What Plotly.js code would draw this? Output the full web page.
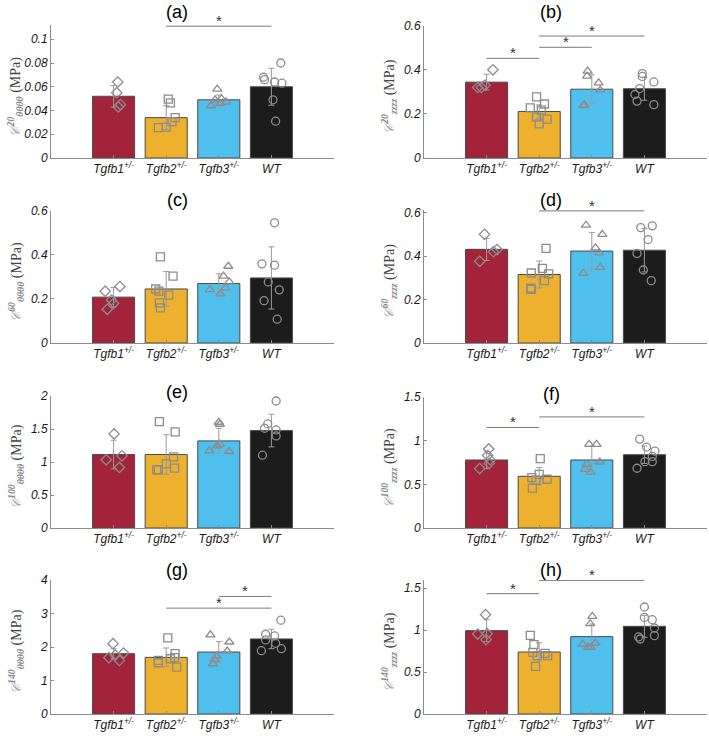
<!DOCTYPE html>
<html><head><meta charset="utf-8">
<script src="https://cdn.plot.ly/plotly-3.0.1.min.js"></script>
<style>body{margin:0;background:#fff}#chart{width:709px;height:736px}</style>
</head><body><div id="chart"></div>
<script>
// ---------- data ----------
const categories = ['Tgfb1<sup>+/-</sup>','Tgfb2<sup>+/-</sup>','Tgfb3<sup>+/-</sup>','WT'];
const panelLabels = ['(a)','(b)','(c)','(d)','(e)','(f)','(g)','(h)'];
const strainSup = ['20','20','60','60','100','100','140','140'];
const compSub = ['θθθθ','zzzz','θθθθ','zzzz','θθθθ','zzzz','θθθθ','zzzz'];

// (a)
const meanA = [0.052,0.034,0.049,0.060];
const sdA = [0.009,0.010,0.004,0.0155];
const ptsA = [[0.064,0.055,0.045,0.043],[0.0496,0.0465,0.034,0.0307,0.026,0.0256],[0.058,0.050,0.049,0.047,0.046,0.044],[0.080,0.068,0.066,0.064,0.063,0.049,0.031]];
const jitA = [[0.08,0.06,0.13,0.09],[0.04,0.08,0.17,0.11,0.0,-0.15],[-0.03,0.05,-0.07,0.14,0.03,-0.15],[0.18,-0.15,-0.13,0.06,0.2,0.03,0.08]];
const sigA = [[2,4,0.111]];
// (b)
const meanB = [0.344,0.211,0.312,0.314];
const sdB = [0.036,0.03,0.065,0.052];
const ptsB = [[0.40,0.33,0.32,0.32],[0.277,0.245,0.227,0.217,0.185,0.176,0.155],[0.394,0.371,0.341,0.308,0.241,0.238],[0.383,0.37,0.345,0.315,0.288,0.258,0.242]];
const jitB = [[0.12,-0.03,-0.1,-0.17],[-0.05,0.10,-0.17,0.04,-0.05,0.15,0.0],[-0.08,-0.09,0.13,0.16,-0.14,-0.16],[-0.04,-0.04,0.18,-0.09,-0.18,-0.14,0.18]];
const sigB = [[1,2,0.452],[2,3,0.502],[2,4,0.553]];
// (c)
const meanC = [0.208,0.245,0.270,0.295];
const sdC = [0.044,0.079,0.044,0.141];
const ptsC = [[0.256,0.235,0.195,0.18,0.153],[0.391,0.303,0.245,0.235,0.217,0.182,0.159],[0.348,0.303,0.277,0.242,0.25,0.223],[0.545,0.359,0.353,0.277,0.241,0.192,0.108]];
const jitC = [[0.12,-0.16,-0.04,0.0,-0.12],[-0.11,0.13,-0.2,-0.14,0.05,-0.13,-0.11],[0.18,0.09,0.20,-0.17,0.13,0.03],[0.06,-0.18,0.06,-0.06,0.15,-0.14,0.11]];
const sigC = [];
// (d)
const meanD = [0.431,0.315,0.423,0.427];
const sdD = [0.051,0.062,0.085,0.10];
const ptsD = [[0.50,0.43,0.42,0.376],[0.435,0.343,0.322,0.318,0.287,0.252,0.247],[0.542,0.50,0.438,0.415,0.348,0.321],[0.531,0.539,0.476,0.412,0.336,0.287]];
const jitD = [[-0.04,0.2,0.13,-0.13],[0.13,0.06,-0.15,0.18,0.10,-0.16,-0.15],[-0.11,0.2,0.07,0.14,0.16,-0.16],[-0.07,0.15,0.07,-0.14,-0.02,0.13]];
const sigD = [[2,4,0.608]];
// (e)
const meanE = [1.113,1.113,1.32,1.476];
const sdE = [0.217,0.30,0.19,0.247];
const ptsE = [[1.426,1.093,1.033,0.917],[1.612,1.456,1.078,0.972,0.907,0.882,0.882],[1.602,1.572,1.27,1.244,1.169,1.159],[1.924,1.577,1.511,1.486,1.395,1.103]];
const jitE = [[0.01,0.16,-0.14,0.11],[-0.13,0.17,0.14,0.0,0.16,-0.18,-0.15],[0.0,0.02,0.02,-0.03,-0.18,0.2],[0.09,-0.07,-0.13,0.09,0.09,-0.17]];
const sigE = [];
// (f)
const meanF = [0.779,0.592,0.779,0.839];
const sdF = [0.10,0.10,0.16,0.10];
const ptsF = [[0.905,0.83,0.78,0.74,0.68],[0.794,0.615,0.577,0.558,0.547,0.456],[0.957,0.957,0.756,0.729,0.672,0.638],[1.018,0.927,0.881,0.82,0.76,0.76,0.684]];
const jitF = [[0.04,0.02,0.07,0.05,-0.13],[0.02,0.0,-0.14,0.15,-0.06,-0.13],[-0.05,0.09,0.15,-0.1,-0.13,-0.02],[-0.09,0.04,0.2,0.15,0.01,0.15,-0.14]];
const sigF = [[1,2,1.151],[2,4,1.272]];
// (g)
const meanG = [1.80,1.69,1.85,2.24];
const sdG = [0.15,0.28,0.31,0.29];
const ptsG = [[2.10,1.82,1.76,1.68,1.60],[2.27,1.80,1.68,1.65,1.60,1.53,1.40],[2.36,2.15,1.88,1.73,1.63,1.50],[2.80,2.38,2.33,2.21,2.11,1.95,1.89]];
const jitG = [[-0.01,0.19,0.03,-0.09,0.11],[0.03,0.17,0.16,0.08,-0.15,-0.15,0.2],[-0.16,0.2,0.16,-0.04,-0.08,-0.11],[0.18,-0.11,0.06,-0.11,0.08,0.19,-0.19]];
const sigG = [[3,4,3.51],[2,4,3.16]];
// (h)
const meanH = [0.992,0.738,0.921,1.044];
const sdH = [0.13,0.11,0.15,0.13];
const ptsH = [[1.183,0.956,0.952,0.885],[0.937,0.825,0.734,0.722,0.694,0.694,0.567],[1.163,1.075,0.845,0.833,0.794,0.794],[1.274,1.15,1.123,1.024,0.933,0.917,0.893]];
const jitH = [[-0.02,0.01,-0.17,-0.01],[-0.17,-0.10,-0.12,0.11,0.16,-0.04,-0.07],[0.01,-0.03,0.07,-0.17,-0.07,-0.02],[0.0,0.0,0.15,0.19,0.19,-0.11,-0.08]];
const sigH = [[1,2,1.433],[2,4,1.591]];

const yMax = [0.112,0.6,0.6,0.612,2,1.5,4,1.6];
const yDtick = [0.02,0.2,0.2,0.2,0.5,0.5,1,0.5];

// ---------- styling / layout ----------
const W = 709, H = 736;
const barColors = ['#A2233A','#EDB12E','#4FBFEE','#1C1C1C'];
const symbols = ['diamond-open','square-open','triangle-up-open','circle-open'];
const grey = '#8c8c8c';
const colPx = [[51,334],[424,707]];
const rowPx = [[25,158],[25.7,158],[210.7,343],[210,343],[396,528],[397,528],[580,714],[579.6,714]];
const titlePos = [[177,12],[551,12],[177,200],[551,200],[177,392],[551,394],[177,570],[551,570]];

const panels = [
  [meanA,sdA,ptsA,jitA,sigA],[meanB,sdB,ptsB,jitB,sigB],
  [meanC,sdC,ptsC,jitC,sigC],[meanD,sdD,ptsD,jitD,sigD],
  [meanE,sdE,ptsE,jitE,sigE],[meanF,sdF,ptsF,jitF,sigF],
  [meanG,sdG,ptsG,jitG,sigG],[meanH,sdH,ptsH,jitH,sigH]
];

const traces = [];
const layout = {
  width: W, height: H, margin: {l:0,r:0,t:0,b:0},
  paper_bgcolor: '#fff', plot_bgcolor: 'rgba(0,0,0,0)',
  showlegend: false, shapes: [], annotations: []
};
const xs = [1,2,3,4];

panels.forEach((p, i) => {
  const [means, sds, pts, jit, sigs] = p;
  const n = i + 1;
  const xa = n === 1 ? 'x' : 'x' + n;
  const ya = n === 1 ? 'y' : 'y' + n;
  const col = colPx[i % 2];
  const row = rowPx[i];
  layout['xaxis' + (n === 1 ? '' : n)] = {
    domain: [col[0] / W, col[1] / W], anchor: ya, range: [-0.19, 5.19],
    tickvals: xs, ticktext: categories, showline: true, linecolor: grey, linewidth: 1,
    ticks: 'inside', ticklen: 3, tickcolor: grey, showgrid: false, zeroline: false,
    fixedrange: true,
    tickfont: {family: 'Liberation Sans, Arial', size: 12, color: '#1a1a1a', style: 'italic'}
  };
  layout['yaxis' + (n === 1 ? '' : n)] = {
    domain: [1 - row[1] / H, 1 - row[0] / H], anchor: xa, range: [0, yMax[i]],
    dtick: yDtick[i], tick0: 0, showline: true, linecolor: grey, linewidth: 1,
    ticks: 'inside', ticklen: 3, tickcolor: grey, showgrid: false, zeroline: false,
    fixedrange: true,
    tickfont: {family: 'Liberation Sans, Arial', size: 12, color: '#1a1a1a', style: 'italic'}
  };
  traces.push({
    type: 'bar', x: xs, y: means, width: 0.8, xaxis: xa, yaxis: ya,
    marker: {color: barColors, line: {color: '#4a4a4a', width: 1}},
    error_y: {type: 'data', array: sds, visible: true, color: '#9a9a9a', thickness: 1, width: 3},
    hoverinfo: 'skip'
  });
  pts.forEach((vals, g) => {
    traces.push({
      type: 'scatter', mode: 'markers', xaxis: xa, yaxis: ya,
      x: vals.map((v, k) => xs[g] + jit[g][k]), y: vals,
      marker: {symbol: symbols[g], size: 8, color: grey, line: {width: 1.3}},
      cliponaxis: false, hoverinfo: 'skip'
    });
  });
  sigs.forEach(s => {
    layout.shapes.push({type: 'line', xref: xa, yref: ya, x0: s[0], x1: s[1], y0: s[2], y1: s[2],
      line: {color: '#7a7a7a', width: 1}});
    layout.annotations.push({xref: xa, yref: ya, x: (s[0] + s[1]) / 2, y: s[2], text: '*',
      showarrow: false, yanchor: 'bottom', yshift: -5,
      font: {family: 'Liberation Sans, Arial', size: 15, color: '#333'}});
  });
  // panel title
  layout.annotations.push({xref: 'paper', yref: 'paper', x: titlePos[i][0] / W, y: 1 - titlePos[i][1] / H,
    text: panelLabels[i], showarrow: false, xanchor: 'center', yanchor: 'middle',
    font: {family: 'Liberation Sans, Arial', size: 18, color: '#000'}});
  // y-axis title
  const yt = '<span style="color:#a8a8a8;font-family:\'DejaVu Serif\';font-style:italic">𝒞</span>' +
    '<sup><span style="color:#8a8a8a;font-style:italic;font-weight:bold">' + strainSup[i] + '</span></sup>' +
    '<sub><span style="color:#8a8a8a;font-style:italic;font-weight:bold">' + compSub[i] + '</span></sub>' +
    ' (MPa)';
  layout.annotations.push({xref: 'paper', yref: 'paper', x: (col[0] - 35) / W,
    y: 1 - ((row[0] + row[1]) / 2 + 5) / H, text: yt, textangle: -90, showarrow: false,
    xanchor: 'center', yanchor: 'middle',
    font: {family: 'Liberation Serif, Times New Roman', size: 14, color: '#444'}});
});

Plotly.newPlot('chart', traces, layout, {staticPlot: true, displayModeBar: false});
</script>
</body></html>
